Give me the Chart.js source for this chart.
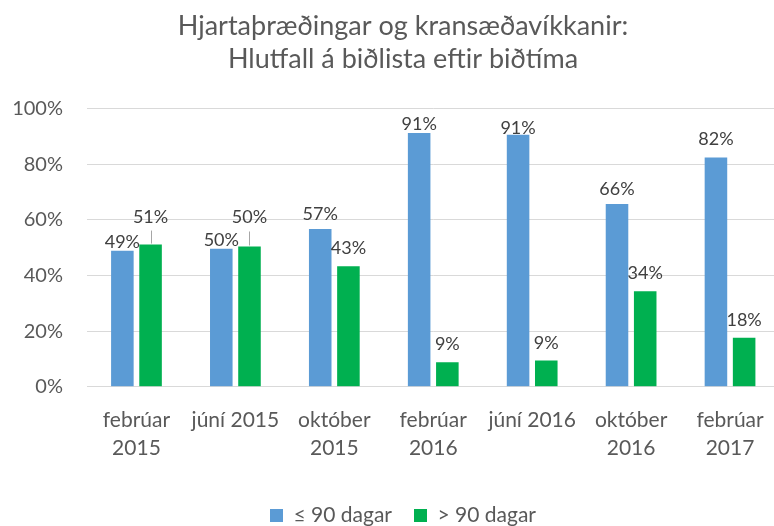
<!DOCTYPE html>
<html>
<head>
<meta charset="utf-8">
<script src="https://cdn.jsdelivr.net/npm/chart.js@4/dist/chart.umd.min.js"></script>
<style>
	html, body { margin: 0; padding: 0; background: #fff; overflow: hidden; }
	#wrap { width: 808px; height: 526px; }
</style>
</head>
<body>
<div id="wrap"><canvas id="myChart" width="808" height="526"></canvas></div>
<script>
// 기간
const periods = [
	['febrúar', '2015'], 'júní 2015', ['október', '2015'],
	['febrúar', '2016'], 'júní 2016', ['október', '2016'], ['febrúar', '2017']
];
// ≤ 90 dagar (%)
const shortWait = [48.9, 49.6, 56.7, 91.2, 90.6, 65.7, 82.4];
// > 90 dagar (%)
const longWait = [51.1, 50.4, 43.3, 8.8, 9.4, 34.3, 17.6];
const seriesNames = ['≤ 90 dagar', '> 90 dagar'];
const yTicks = [0, 20, 40, 60, 80, 100];
const titleLines = ['Hjartaþræðingar og kransæðavíkkanir:', 'Hlutfall á biðlista eftir biðtíma'];

// 라벨 간격 (막대 위쪽에서 위로, px) - 엑셀에서 손으로 옮긴 라벨들
const labelGaps = [
	[3, 3, 9, 3, 1, 9, 12],
	[22, 23, 12, 12, 12, 12, 12]
];

const FONT = 'Lato, "Open Sans", sans-serif';

// 데이터 라벨 그리기
const valueLabels = {
	id: 'valueLabels',
	afterDatasetsDraw(chart) {
		const ctx = chart.ctx;
		ctx.save();
		ctx.font = '18px ' + FONT;
		ctx.fillStyle = '#404040';
		ctx.textAlign = 'center';
		ctx.textBaseline = 'alphabetic';
		chart.data.datasets.forEach(function(ds, i) {
			const meta = chart.getDatasetMeta(i);
			meta.data.forEach(function(bar, j) {
				const gap = labelGaps[i][j];
				const y = bar.y - gap;
				ctx.fillText(Math.round(ds.data[j]) + '%', bar.x, y);
				// 멀리 옮긴 라벨은 지시선
				if (gap > 18) {
					ctx.strokeStyle = '#A6A6A6';
					ctx.lineWidth = 1;
					ctx.beginPath();
					ctx.moveTo(Math.round(bar.x) + 0.5, y + 8);
					ctx.lineTo(Math.round(bar.x) + 0.5, bar.y - 1);
					ctx.stroke();
				}
			});
		});
		ctx.restore();
	}
};

new Chart(document.getElementById('myChart').getContext('2d'), {
	type: 'bar',
	data: {
		labels: periods,
		datasets: [{
			label: seriesNames[0],
			data: shortWait,
			backgroundColor: '#5B9BD5',
			borderWidth: 0,
			barPercentage: 0.8,
			categoryPercentage: 0.57
		}, {
			label: seriesNames[1],
			data: longWait,
			backgroundColor: '#00B050',
			borderWidth: 0,
			barPercentage: 0.8,
			categoryPercentage: 0.57
		}]
	},
	options: {
		responsive: false,
		animation: false,
		layout: { padding: { left: 0, right: 2, top: 0, bottom: -10 } },
		scales: {
			x: {
				grid: { display: false },
				border: { display: true, color: '#D9D9D9', width: 1 },
				ticks: {
					color: '#595959',
					font: { family: FONT, size: 21, lineHeight: 1.35 },
					padding: 11,
					maxRotation: 0,
					autoSkip: false
				},
				afterFit: function(scale) { scale.height = 96.3; }
			},
			y: {
				min: 0,
				max: 100,
				afterBuildTicks: function(scale) {
					scale.ticks = yTicks.map(function(v) { return { value: v }; });
				},
				grid: { color: '#D9D9D9', lineWidth: 1, drawTicks: false },
				border: { display: false },
				ticks: {
					color: '#595959',
					font: { family: FONT, size: 20 },
					padding: 24,
					callback: function(v) { return v + '%'; }
				},
				afterFit: function(scale) { scale.width = 87; }
			},
			// 오른쪽 여백용 빈 축 (제목/범례 가운데 맞춤)
			y2: {
				type: 'linear',
				position: 'right',
				grid: { display: false },
				border: { display: false },
				ticks: { display: false },
				afterFit: function(scale) { scale.width = 26.5; }
			}
		},
		plugins: {
			title: {
				display: true,
				text: titleLines,
				color: '#595959',
				font: { family: FONT, size: 27, weight: 'normal', lineHeight: 1.23 },
				padding: { top: 9.4, bottom: 32.7 }
			},
			legend: {
				position: 'bottom',
				labels: {
					color: '#595959',
					font: { family: FONT, size: 21 },
					boxWidth: 13,
					boxHeight: 13,
					padding: 22
				}
			},
			tooltip: { enabled: false }
		}
	},
	plugins: [valueLabels]
});
</script>
</body>
</html>
